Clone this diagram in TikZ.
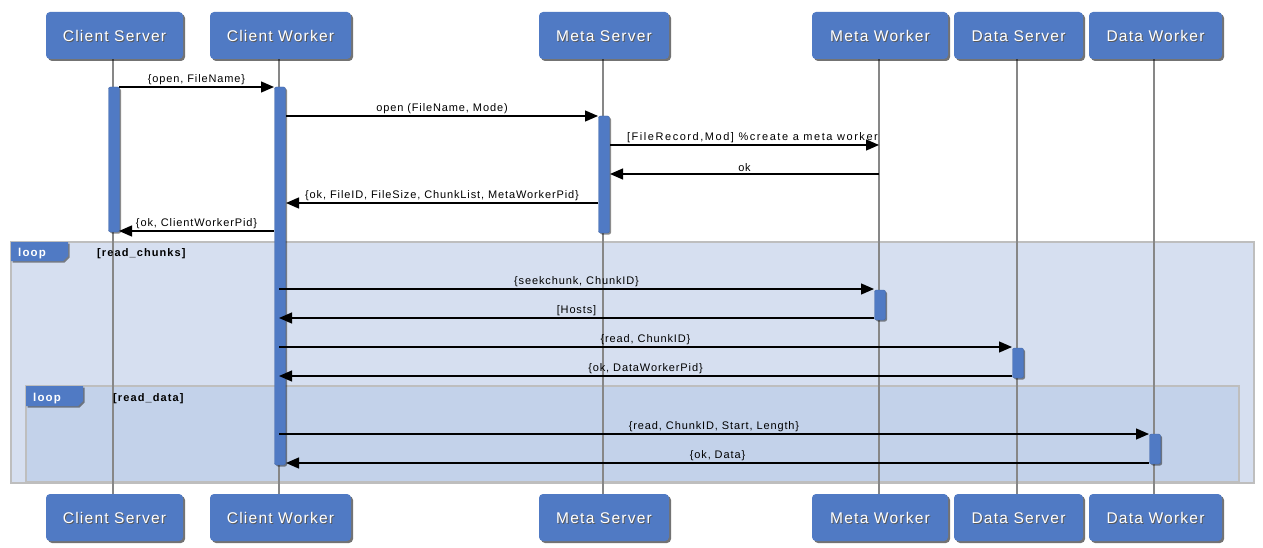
\documentclass[tikz,border=0pt]{standalone}
\usepackage{fontspec}
\setmainfont{Liberation Sans}
\usetikzlibrary{arrows.meta,shadows}
\definecolor{boxblue}{RGB}{80,122,196}
\definecolor{outerfill}{RGB}{214,223,240}
\definecolor{innerfill}{RGB}{195,210,234}
\definecolor{framegray}{RGB}{190,190,190}
\definecolor{lifegray}{RGB}{135,135,135}
\newcommand\actorbox[5]{%
  \node[actorbg, minimum width=#4] (#1) at (#2,#3) {};
  \node[actortxt, text=black!65] (#1s) at ([shift={(1pt,-1pt)}]#1.center) {#5};
  \node[actortxt, text=white] (#1t) at (#1.center) {#5};}
\begin{document}
\begin{tikzpicture}[x=1pt,y=-1pt,
  actorbg/.style={fill=boxblue, rounded corners=4pt, minimum height=47pt, inner sep=0pt,
    drop shadow={shadow xshift=2pt, shadow yshift=-2pt, opacity=0.55, fill=black}},
  actortxt/.style={inner sep=0pt, text height=11.5pt, text depth=0pt, font=\fontsize{15.5}{18}\selectfont\addfontfeature{LetterSpace=8}},
  frame/.style={draw=framegray, line width=1.6pt},
  lifeline/.style={draw=lifegray, line width=1.4pt},
  bar/.style={fill=boxblue, draw=boxblue!85!black, line width=0.4pt, rounded corners=2pt, minimum width=11pt, inner sep=0pt,
    drop shadow={shadow xshift=1.5pt, shadow yshift=-1.5pt, opacity=0.45, fill=black}},
  msg/.style={draw=black, line width=1.3pt, -{Triangle[length=13pt,width=11pt]}},
  lbl/.style={anchor=south, inner sep=0pt, yshift=1.5pt, font=\fontsize{11}{13}\selectfont\addfontfeature{LetterSpace=8}},
  looptab/.style={fill=boxblue, drop shadow={shadow xshift=1.5pt, shadow yshift=-1.5pt, opacity=0.45, fill=black}},
  looptxt/.style={anchor=west, inner sep=0pt, text height=8pt, text depth=0pt, text=white, font=\bfseries\fontsize{11.5}{13}\selectfont\addfontfeature{LetterSpace=10}},
  guard/.style={anchor=west, inner sep=0pt, text height=8pt, text depth=0pt, font=\bfseries\fontsize{11}{13}\selectfont\addfontfeature{LetterSpace=10}}
]
\useasboundingbox[fill=white] (0,0) rectangle (1263,548);

% loop frames
\path[fill=outerfill, frame] (11,242) rectangle (1254,483);
\path[fill=innerfill, frame] (26,386) rectangle (1239,482);

% lifelines
\foreach \n/\x in {cs/113,cw/279,ms/603,mw/879,ds/1017,dw/1154}{
  \coordinate (\n top) at (\x,59);
  \coordinate (\n bot) at (\x,494);
  \draw[lifeline] (\n top) -- (\n bot);
}

% loop tabs
\path[looptab] (11,242) -- (68,242) -- (68,256) -- (63,261) -- (11,261) -- cycle;
\node[looptxt] (loop1) at (18,252) {loop};
\node[guard] (g1) at (97,252) {[read\_chunks]};
\path[looptab] (26,386) -- (83,386) -- (83,401) -- (78,406) -- (26,406) -- cycle;
\node[looptxt] (loop2) at (33,397) {loop};
\node[guard] (g2) at (113,397) {[read\_data]};

% activation bars
\node[bar, minimum height=145pt] (csbar) at (114,159.5) {};
\node[bar, minimum height=378pt] (cwbar) at (280,276) {};
\node[bar, minimum height=117pt] (msbar) at (604,174.5) {};
\node[bar, minimum height=30pt] (mwbar) at (880,305) {};
\node[bar, minimum height=30pt] (dsbar) at (1018,363) {};
\node[bar, minimum height=30pt] (dwbar) at (1155,449) {};

% message end points
\coordinate (m1s) at (119,87);   \coordinate (m1e) at (274,87);
\coordinate (m2s) at (286,116);  \coordinate (m2e) at (598,116);
\coordinate (m3s) at (610,145);  \coordinate (m3e) at (879,145);
\coordinate (m4s) at (879,174);  \coordinate (m4e) at (610,174);
\coordinate (m5s) at (598,203);  \coordinate (m5e) at (286,203);
\coordinate (m6s) at (274,231);  \coordinate (m6e) at (119,231);
\coordinate (m7s) at (279,289);  \coordinate (m7e) at (874,289);
\coordinate (m8s) at (874,318);  \coordinate (m8e) at (279,318);
\coordinate (m9s) at (279,347);  \coordinate (m9e) at (1012,347);
\coordinate (m10s) at (1012,376); \coordinate (m10e) at (279,376);
\coordinate (m11s) at (279,434); \coordinate (m11e) at (1149,434);
\coordinate (m12s) at (1149,463); \coordinate (m12e) at (286,463);

% messages
\draw[msg] (m1s) -- node[lbl] (l1) {\{open, FileName\}} (m1e);
\draw[msg] (m2s) -- node[lbl] (l2) {open (FileName, Mode)} (m2e);
\draw[msg] (m3s) -- node[lbl, xshift=8pt, font=\fontsize{11}{13}\selectfont\addfontfeature{LetterSpace=14}] (l3) {[FileRecord,Mod] \%create a meta worker} (m3e);
\draw[msg] (m4s) -- node[lbl] (l4) {ok} (m4e);
\draw[msg] (m5s) -- node[lbl] (l5) {\{ok, FileID, FileSize, ChunkList, MetaWorkerPid\}} (m5e);
\draw[msg] (m6s) -- node[lbl] (l6) {\{ok, ClientWorkerPid\}} (m6e);
\draw[msg] (m7s) -- node[lbl] (l7) {\{seekchunk, ChunkID\}} (m7e);
\draw[msg] (m8s) -- node[lbl] (l8) {[Hosts]} (m8e);
\draw[msg] (m9s) -- node[lbl] (l9) {\{read, ChunkID\}} (m9e);
\draw[msg] (m10s) -- node[lbl] (l10) {\{ok, DataWorkerPid\}} (m10e);
\draw[msg] (m11s) -- node[lbl] (l11) {\{read, ChunkID, Start, Length\}} (m11e);
\draw[msg] (m12s) -- node[lbl] (l12) {\{ok, Data\}} (m12e);

% actor heads (top and bottom)
\actorbox{csA}{114.5}{35.5}{137pt}{Client Server}
\actorbox{cwA}{280.5}{35.5}{141pt}{Client Worker}
\actorbox{msA}{604}{35.5}{130pt}{Meta Server}
\actorbox{mwA}{880}{35.5}{136pt}{Meta Worker}
\actorbox{dsA}{1018.5}{35.5}{129pt}{Data Server}
\actorbox{dwA}{1155.5}{35.5}{133pt}{Data Worker}
\actorbox{csB}{114.5}{517.5}{137pt}{Client Server}
\actorbox{cwB}{280.5}{517.5}{141pt}{Client Worker}
\actorbox{msB}{604}{517.5}{130pt}{Meta Server}
\actorbox{mwB}{880}{517.5}{136pt}{Meta Worker}
\actorbox{dsB}{1018.5}{517.5}{129pt}{Data Server}
\actorbox{dwB}{1155.5}{517.5}{133pt}{Data Worker}
\end{tikzpicture}
\end{document}
